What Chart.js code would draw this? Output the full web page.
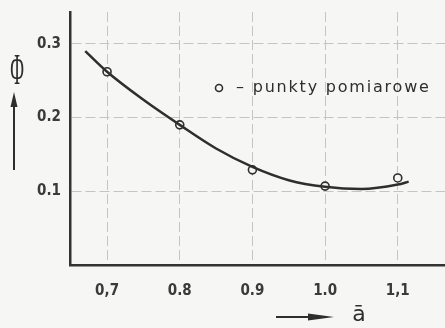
<!DOCTYPE html>
<html>
<head>
<meta charset="utf-8">
<script src="https://cdn.jsdelivr.net/npm/chart.js@4"></script>
<style>
html,body{margin:0;padding:0;background:#f6f6f4;}
#wrap{width:445px;height:328px;position:relative;}
</style>
</head>
<body>
<div id="wrap"><canvas id="c" width="445" height="328"></canvas></div>
<script>
// Measured points (ā, Φ)
const measuredX = [0.7, 0.8, 0.9, 1.0, 1.1];
const measuredY = [0.262, 0.190, 0.129, 0.107, 0.118];
// Fitted curve
const curveX = [0.670, 0.700, 0.750, 0.800, 0.850, 0.900, 0.950, 1.000, 1.050, 1.100, 1.115];
const curveY = [0.290, 0.262, 0.224, 0.190, 0.158, 0.133, 0.115, 0.106, 0.103, 0.109, 0.113];
// Tick values and labels
const xTickValues = [0.7, 0.8, 0.9, 1.0, 1.1];
const xTickLabels = ["0,7", "0.8", "0.9", "1.0", "1,1"];
const yTickValues = [0.1, 0.2, 0.3];
const yTickLabels = ["0.1", "0.2", "0.3"];
const legendText = "– punkty pomiarowe";
const yTitle = "Φ";
const xTitle = "ā";

const ink = '#2e2e2e';

const bgPlugin = {
  id: 'bg',
  beforeDraw(chart) {
    const ctx = chart.ctx;
    ctx.save();
    ctx.fillStyle = '#f6f6f4';
    ctx.fillRect(0, 0, chart.width, chart.height);
    ctx.restore();
  }
};

const annotPlugin = {
  id: 'annot',
  afterDraw(chart) {
    const ctx = chart.ctx;
    ctx.save();
    ctx.fillStyle = ink;
    ctx.strokeStyle = ink;
    // Y title: Φ with up arrow
    ctx.font = '34px "Liberation Serif"';
    ctx.textAlign = 'center';
    ctx.textBaseline = 'middle';
    ctx.save();
    ctx.translate(17, 72);
    ctx.scale(0.55, 1.3);
    ctx.fillText(yTitle, 0, 0);
    ctx.restore();
    ctx.lineWidth = 2;
    ctx.beginPath(); ctx.moveTo(14, 170); ctx.lineTo(14, 104); ctx.stroke();
    ctx.beginPath(); ctx.moveTo(14, 92); ctx.lineTo(10.5, 107); ctx.lineTo(17.5, 107); ctx.closePath(); ctx.fill();
    // X title: arrow then ā
    ctx.beginPath(); ctx.moveTo(276, 317); ctx.lineTo(320, 317); ctx.stroke();
    ctx.beginPath(); ctx.moveTo(334, 317); ctx.lineTo(308, 313.5); ctx.lineTo(308, 320.5); ctx.closePath(); ctx.fill();
    ctx.font = '22px "DejaVu Sans"';
    ctx.fillText(xTitle, 359, 315);
    // Legend
    const lx = 219, ly = 88;
    ctx.lineWidth = 1.6;
    ctx.beginPath(); ctx.arc(lx, ly, 3.5, 0, Math.PI * 2); ctx.stroke();
    ctx.font = '16px "DejaVu Sans"';
    ctx.textAlign = 'left';
    if ('letterSpacing' in ctx) ctx.letterSpacing = '1.8px';
    ctx.fillText(legendText, 236, ly);
    ctx.restore();
  }
};

new Chart(document.getElementById('c'), {
  type: 'scatter',
  data: {
    datasets: [
      {
        label: 'curve',
        data: curveX.map((x, i) => ({x, y: curveY[i]})),
        showLine: true,
        borderColor: ink,
        borderWidth: 2.5,
        pointRadius: 0,
        cubicInterpolationMode: 'monotone',
        fill: false
      },
      {
        label: 'punkty pomiarowe',
        data: measuredX.map((x, i) => ({x, y: measuredY[i]})),
        showLine: false,
        pointRadius: 4,
        pointBorderWidth: 1.6,
        pointBorderColor: ink,
        pointBackgroundColor: '#f6f6f4'
      }
    ]
  },
  options: {
    responsive: false,
    animation: false,
    devicePixelRatio: 1,
    layout: {autoPadding: false, padding: {top: 12, right: 0, left: 0, bottom: 0}},
    plugins: {legend: {display: false}, tooltip: {enabled: false}},
    scales: {
      x: {
        type: 'linear',
        min: 0.649,
        max: 1.165,
        afterBuildTicks(scale) { scale.ticks = xTickValues.map(v => ({value: v})); },
        afterFit(scale) { scale.height = 63; scale.paddingRight = 0; scale.paddingLeft = 0; },
        ticks: {
          callback(v) { const i = xTickValues.findIndex(t => Math.abs(t - v) < 1e-6); return i >= 0 ? xTickLabels[i] : ''; },
          color: '#3a3a3a', font: {family: 'DejaVu Sans Condensed', size: 15, weight: 'bold'}, padding: 17, maxRotation: 0
        },
        grid: {color: '#c4c4c4', lineWidth: 1, drawTicks: false},
        border: {display: true, color: '#333', width: 2.5, dash: [10, 4]}
      },
      y: {
        type: 'linear',
        min: 0,
        max: 0.343,
        afterBuildTicks(scale) { scale.ticks = yTickValues.map(v => ({value: v})); },
        afterFit(scale) { scale.width = 70; scale.paddingTop = 0; scale.paddingBottom = 0; },
        ticks: {
          callback(v) { const i = yTickValues.findIndex(t => Math.abs(t - v) < 1e-6); return i >= 0 ? yTickLabels[i] : ''; },
          color: '#3a3a3a', font: {family: 'DejaVu Sans Condensed', size: 15, weight: 'bold'}, padding: 9
        },
        grid: {color: '#c4c4c4', lineWidth: 1, drawTicks: false},
        border: {display: true, color: '#333', width: 2.5, dash: [10, 4]}
      }
    }
  },
  plugins: [bgPlugin, annotPlugin]
});
</script>
</body>
</html>
